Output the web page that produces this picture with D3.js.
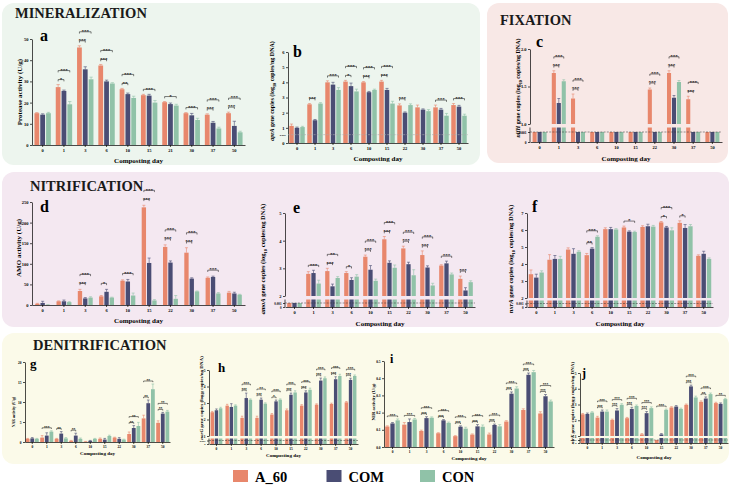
<!DOCTYPE html>
<html lang="en">
<head>
<meta charset="utf-8">
<script src="https://cdn.jsdelivr.net/npm/d3@7"></script>
<style>
*{margin:0;padding:0}
body{width:734px;height:488px;background:#fff;overflow:hidden}
svg{display:block;font-family:"Liberation Serif","Times New Roman",serif}
</style>
</head>
<body>
<svg id="fig" width="734" height="488"></svg>
<script>
// ---- categories ----
const days = ['0','1','3','6','10','15','22','30','37','50'];
const daysA = ['0','1','3','6','10','15','21','30','37','50'];
const groups = ['A_60','COM','CON'];

// ---- a: protease activity (U/g) ----
const protA   = [15,27.3,46,37.5,26.3,23.5,20.2,15,14.3,15];
const protCOM = [14.3,25.5,35.7,30,24,23.3,19.3,14,10.5,9];
const protCON = [15,19.2,31,29,22.2,20,18.6,11.8,7.8,6];
const protErrA   = [0.3,1.2,0.8,0.5,0.4,0.4,0.3,0.3,0.4,0.5];
const protErrCOM = [0.4,0.4,1.2,0.6,0.5,0.6,0.5,0.9,0.6,2.2];
const protErrCON = [0.4,1.3,1.0,0.4,0.8,1.0,0.6,0.8,0.6,0.5];
const protSig = [[1,'s','*'],[1,'l','***'],[2,'s','***'],[2,'l','***'],[3,'s','***'],[3,'l','***'],[4,'s','**'],[4,'l','***'],[5,'l','***'],[6,'l','*'],[7,'l','***'],[8,'s','***'],[8,'l','***'],[9,'s','***'],[9,'l','***']];

// ---- b: aprA ----
const aprA_A   = [1.13,2.55,4.0,4.05,4.0,4.05,2.48,2.35,2.35,2.5];
const aprA_COM = [1.0,1.5,3.85,3.75,3.35,3.5,2.0,2.2,2.2,2.4];
const aprA_CON = [1.05,2.6,3.5,3.4,3.5,2.6,2.5,2.1,1.8,1.8];
const aprErrA   = [0.12,0.05,0.1,0.08,0.05,0.08,0.1,0.15,0.15,0.1];
const aprErrCOM = [0.05,0.05,0.15,0.2,0.05,0.1,0.05,0.05,0.08,0.08];
const aprErrCON = [0.05,0.06,0.15,0.15,0.05,0.15,0.08,0.1,0.15,0.1];
const aprSig = [[1,'s','***'],[2,'l','***'],[3,'s','*'],[3,'l','***'],[4,'s','***'],[4,'l','***'],[5,'s','***'],[5,'l','***'],[6,'s','***'],[8,'l','***'],[9,'l','***']];

// ---- c: nifH (0.001 = below detection) ----
const nifA   = [0.001,1.68,1.34,0.001,0.001,0.001,1.46,1.68,1.33,0.001];
const nifCOM = [0.001,1.28,0.001,0.001,0.001,0.001,0.001,1.35,0.001,0.001];
const nifCON = [0.001,1.57,0.001,0.001,0.001,0.001,0.001,1.56,0.001,0.001];
const nifErrA   = [0,0.03,0.06,0,0,0,0.02,0.03,0.04,0];
const nifErrCOM = [0,0.06,0,0,0,0,0,0.03,0,0];
const nifErrCON = [0,0.02,0,0,0,0,0,0.02,0,0];
const nifSig = [[1,'s','***'],[1,'l','***'],[2,'s','***'],[2,'l','***'],[6,'s','***'],[6,'l','***'],[7,'s','***'],[7,'l','***'],[8,'s','***'],[8,'l','***']];

// ---- d: AMO activity (U/g) ----
const amoActA   = [3,9,34,21,59,237,141,127,66,30];
const amoActCOM = [5,9,16,32,57,102,103,64,68,28];
const amoActCON = [0.5,7,18,18,23,11,15,33,28,25];
const amoErrA   = [1,1,4,2,2,5,5,12,2,3];
const amoErrCOM = [4,3,2,6,5,12,4,2,2,3];
const amoErrCON = [0.3,1,2,1,6,2,8,1,2,1];
const amoActSig = [[2,'s','***'],[2,'l','***'],[3,'s','*'],[4,'l','***'],[5,'s','***'],[5,'l','***'],[6,'s','***'],[6,'l','***'],[7,'s','***'],[7,'l','***'],[8,'l','***']];

// ---- e: amoA ----
const amoA_A   = [0.001,2.8,2.9,2.83,3.42,4.05,3.72,3.48,3.1,2.62];
const amoA_COM = [0.001,2.83,2.35,2.58,2.95,3.2,3.15,3.03,3.18,2.2];
const amoA_CON = [0.001,2.45,2.65,2.7,2.55,3.02,2.75,2.38,2.78,2.5];
const amoAErrA   = [0,0.08,0.1,0.05,0.06,0.1,0.08,0.15,0.03,0.1];
const amoAErrCOM = [0,0.1,0.08,0.08,0.15,0.07,0.07,0.06,0.08,0.1];
const amoAErrCON = [0,0.12,0.05,0.07,0.06,0.1,0.2,0.08,0.05,0.05];
const amoASig = [[1,'l','***'],[2,'s','***'],[2,'l','**'],[3,'s','*'],[4,'s','***'],[4,'l','***'],[5,'s','***'],[5,'l','***'],[6,'s','***'],[6,'l','***'],[7,'s','***'],[7,'l','***'],[8,'l','***'],[9,'s','***']];

// ---- f: nxrA ----
const nxrA_A   = [3.4,4.25,4.85,4.52,6.05,6.15,6.18,6.45,6.42,4.48];
const nxrA_COM = [3.2,4.3,4.6,4.9,6.05,5.9,6.22,6.15,6.12,4.6];
const nxrA_CON = [3.5,4.3,4.72,5.6,6.03,5.88,6.2,5.98,6.22,4.3];
const nxrErrA   = [0.25,0.3,0.1,0.1,0.08,0.08,0.07,0.05,0.12,0.06];
const nxrErrCOM = [0.2,0.2,0.3,0.06,0.1,0.05,0.12,0.06,0.2,0.15];
const nxrErrCON = [0.1,0.15,0.06,0.06,0.05,0.05,0.07,0.15,0.1,0.06];
const nxrSig = [[3,'s','**'],[3,'l','***'],[5,'l','*'],[7,'s','*'],[7,'l','***'],[8,'s','*']];

// ---- g: NAR activity (U/g) ----
const narA   = [0.8,1.1,0.8,0.3,0.1,0.8,1.1,2.0,5.9,4.8];
const narCOM = [0.9,1.6,2.1,1.6,0.3,0.6,0.8,3.5,9.7,7.1];
const narCON = [0.8,2.6,0.9,0.8,0.8,1.5,0.6,4.0,13.2,7.6];
const narErrA   = [0.1,0.5,0.1,0.1,0.05,0.2,0.1,0.5,0.8,0.5];
const narErrCOM = [0.2,0.7,0.5,0.6,0.1,0.3,0.3,0.6,0.8,0.3];
const narErrCON = [0.1,0.2,0.2,0.2,0.1,0.2,0.1,0.9,1.3,0.3];
const narSig = [[1,'l','***'],[2,'s','**'],[3,'s','**'],[7,'s','**'],[7,'l','**'],[8,'s','**'],[8,'l','**'],[9,'s','**'],[9,'l','**']];

// ---- h: narG ----
const narG_A   = [2.44,2.84,2.1,2.1,2.3,2.56,2.84,2.9,2.94,3.04];
const narG_COM = [2.56,2.76,3.3,3.2,3.1,3.5,3.64,4.36,4.44,4.4];
const narG_CON = [2.68,2.84,3.2,2.96,3.2,3.64,3.8,4.5,4.64,4.64];
const narGErrA   = [0.05,0.08,0.1,0.1,0.06,0.08,0.06,0.05,0.05,0.05];
const narGErrCOM = [0.08,0.2,0.3,0.1,0.08,0.1,0.1,0.15,0.15,0.1];
const narGErrCON = [0.06,0.05,0.05,0.05,0.05,0.1,0.1,0.08,0.1,0.06];
const narGSig = [[2,'s','***'],[2,'l','***'],[3,'s','***'],[3,'l','**'],[4,'s','*'],[4,'l','***'],[5,'s','***'],[5,'l','***'],[6,'s','***'],[6,'l','***'],[7,'s','***'],[7,'l','***'],[8,'s','***'],[8,'l','***'],[9,'s','***'],[9,'l','***']];

// ---- i: NIR activity (U/g) ----
const nirA   = [0.119,0.13,0.093,0.08,0.063,0.072,0.073,0.148,0.215,0.195];
const nirCOM = [0.137,0.145,0.168,0.155,0.118,0.12,0.128,0.31,0.42,0.295];
const nirCON = [0.155,0.16,0.17,0.14,0.107,0.118,0.12,0.34,0.435,0.265];
const nirErrA   = [0.004,0.012,0.005,0.003,0.003,0.004,0.008,0.005,0.007,0.01];
const nirErrCOM = [0.005,0.018,0.008,0.004,0.005,0.01,0.005,0.01,0.01,0.01];
const nirErrCON = [0.008,0.006,0.005,0.005,0.008,0.01,0.01,0.01,0.01,0.008];
const nirSig = [[0,'l','***'],[1,'l','***'],[2,'s','***'],[2,'l','***'],[3,'s','***'],[3,'l','***'],[4,'s','***'],[4,'l','***'],[5,'s','***'],[5,'l','***'],[6,'s','***'],[6,'l','***'],[7,'s','***'],[7,'l','***'],[8,'s','***'],[8,'l','***'],[9,'s','***'],[9,'l','***']];

// ---- j: nirK ----
const nirK_A   = [2.38,2.17,2.02,2.13,1.1,0.001,2.81,2.98,3.17,3.09];
const nirK_COM = [2.4,2.55,2.62,2.72,2.45,1.1,2.87,4.15,3.38,3.04];
const nirK_CON = [2.49,2.55,2.98,2.91,2.77,2.66,2.72,3.45,3.66,3.34];
const nirKErrA   = [0.05,0.08,0.05,0.05,0.05,0,0.05,0.05,0.06,0.05];
const nirKErrCOM = [0.06,0.1,0.12,0.1,0.1,0.05,0.06,0.08,0.1,0.06];
const nirKErrCON = [0.05,0.1,0.07,0.06,0.08,0.05,0.05,0.08,0.07,0.05];
const nirKSig = [[1,'s','***'],[1,'l','***'],[2,'s','***'],[2,'l','***'],[3,'s','***'],[3,'l','***'],[4,'s','***'],[4,'l','***'],[5,'l','***'],[7,'s','***'],[7,'l','***'],[8,'s','**'],[8,'l','***'],[9,'l','**']];

const colors = ['#e8876c','#4a4d74','#90c2a8'];

const svg = d3.select('#fig');

// background boxes
[[2,3,478,162,'#edf5ee'],[487,3,241,160,'#f8e8e6'],[2,172,727,155,'#f4e8f1'],[2,333,727,131,'#fbfae9']]
  .forEach(b => svg.append('rect').attr('x',b[0]).attr('y',b[1]).attr('width',b[2]).attr('height',b[3])
    .attr('rx',12).attr('fill',b[4]));

const section = (t,x,y) => svg.append('text').attr('x',x).attr('y',y).attr('font-size',14.5)
  .attr('font-weight','bold').attr('fill','#1a1a1a').text(t);
section('MINERALIZATION',15,18);
section('FIXATION',500,25);
section('NITRIFICATION',30,191);
section('DENITRIFICATION',33,350);

const gene = (g) => [{t:g,i:1},{t:' gene copies (log'},{t:'10',sub:1},{t:' copies/ng DNA)'}];

function drawPanel(p) {
  const g = svg.append('g');
  const n = p.labels.length;
  const x = d3.scaleBand().domain(d3.range(n)).range([p.x0,p.x1]).paddingInner(p.pad).paddingOuter(p.pad/2);
  const xs = d3.scaleBand().domain([0,1,2]).range([0,x.bandwidth()]).paddingInner(0.18);
  const yU = d3.scaleLinear().domain(p.dom).range([p.broken ? p.yUB : p.y0, p.yT]);
  const yL = d3.scaleLinear().domain([0,0.001]).range([p.y0,p.yLod]);
  const base = p.dom[0];
  const up = v => !p.broken || v > base;
  const cx = (s,i) => x(i)+xs(s)+xs.bandwidth()/2;
  const topY = (s,i) => {
    const v = p.vals[s][i], e = p.errs[s][i] || 0;
    return up(v) ? yU(v+e) : p.yLod;
  };

  p.vals.forEach((vals,s) => {
    const rows = vals.map((v,i) => ({v,i,e:p.errs[s][i]}));
    const bg = g.append('g').attr('fill',colors[s]);
    bg.selectAll('rect.u').data(rows.filter(d => up(d.v))).join('rect').attr('class','u')
      .attr('x',d => x(d.i)+xs(s)).attr('width',xs.bandwidth())
      .attr('y',d => yU(d.v)).attr('height',d => yU(base)-yU(d.v));
    if (p.broken) {
      bg.selectAll('rect.l').data(rows).join('rect').attr('class','l')
        .attr('x',d => x(d.i)+xs(s)).attr('width',xs.bandwidth())
        .attr('y',d => up(d.v) ? p.yLT : p.yLod).attr('height',d => p.y0-(up(d.v) ? p.yLT : p.yLod));
    }
    const eb = g.append('g').attr('stroke',colors[s]).attr('stroke-width',0.6);
    rows.filter(d => up(d.v) && d.e > 0).forEach(d => {
      const c = cx(s,d.i), w = xs.bandwidth()*0.35;
      eb.append('path').attr('d',`M${c},${yU(d.v)}V${yU(d.v+d.e)}M${c-w},${yU(d.v+d.e)}H${c+w}`);
    });
  });

  const styleAxis = (a,fs) => {
    a.attr('font-size',fs).attr('font-family',null).attr('font-weight','bold');
    a.selectAll('line,path').attr('stroke-width',0.7);
  };

  const ya = g.append('g').attr('transform',`translate(${p.x0},0)`)
    .call(d3.axisLeft(yU).tickValues(p.ticks).tickFormat(p.fmt).tickSize(2).tickSizeOuter(0).tickPadding(1.5));
  styleAxis(ya,p.tfs);

  if (p.broken) {
    const la = g.append('g').attr('transform',`translate(${p.x0},0)`)
      .call(d3.axisLeft(yL).tickValues([0,0.001]).tickFormat(d => d ? '0.001' : '0').tickSize(2).tickPadding(1.5));
    la.select('.domain').remove();
    styleAxis(la,p.lfs2);
    g.append('line').attr('x1',p.x0).attr('x2',p.x0).attr('y1',p.yLT).attr('y2',p.y0)
      .attr('stroke','#000').attr('stroke-width',0.7);
    g.append('line').attr('x1',p.x0).attr('x2',p.x1).attr('y1',p.yLod).attr('y2',p.yLod)
      .attr('stroke','#333').attr('stroke-width',0.5).attr('stroke-dasharray','2,1.2');
  }
  if (p.ref !== undefined) {
    g.append('line').attr('x1',p.x0).attr('x2',p.x1).attr('y1',yU(p.ref)).attr('y2',yU(p.ref))
      .attr('stroke','#aaa').attr('stroke-width',0.6).attr('stroke-dasharray','2,1.2');
    g.append('text').attr('x',p.x0-2).attr('y',yU(p.ref)+1).attr('text-anchor','end')
      .attr('font-size',2.8).attr('font-weight','bold').text('0.001');
  }

  const xa = g.append('g').attr('transform',`translate(0,${p.y0})`)
    .call(d3.axisBottom(x).tickFormat(i => p.labels[i]).tickSize(2).tickSizeOuter(0).tickPadding(p.xpad));
  styleAxis(xa,p.tfs);

  g.append('text').attr('x',(p.x0+p.x1)/2).attr('y',p.xt).attr('text-anchor','middle')
    .attr('font-size',p.xfs).attr('font-weight','bold').text('Composting day');

  const yt = g.append('text').attr('transform',`translate(${p.ylx},${p.yly}) rotate(-90)`)
    .attr('text-anchor','middle').attr('font-size',p.yfs).attr('font-weight','bold');
  let shift = 0;
  p.ytitle.forEach(part => {
    const t = yt.append('tspan').text(part.t);
    if (part.i) t.attr('font-style','italic');
    if (part.sub) { t.attr('dy',p.yfs*0.25).attr('font-size',p.yfs*0.7); shift = p.yfs*0.25; }
    else if (shift) { t.attr('dy',-shift); shift = 0; }
  });

  g.append('text').attr('x',p.lx).attr('y',p.ly).attr('font-size',p.lfs).attr('font-weight','bold').text(p.letter);

  // significance brackets
  const hasShort = new Set(p.sig.filter(d => d[1]==='s').map(d => d[0]));
  p.sig.forEach(([i,k,lab]) => {
    const xa1 = cx(0,i), xa2 = cx(k==='s' ? 1 : 2, i);
    const ys = Math.min(topY(0,i),topY(1,i)) - p.so;
    let y = ys;
    if (k==='l') {
      const yl = Math.min(topY(0,i),topY(1,i),topY(2,i)) - p.so;
      y = hasShort.has(i) ? Math.min(ys-p.lo,yl) : yl;
    }
    g.append('path').attr('d',`M${xa1},${y+p.leg}V${y}H${xa2}V${y+p.leg}`)
      .attr('fill','none').attr('stroke','#000').attr('stroke-width',0.5);
    g.append('text').attr('x',(xa1+xa2)/2).attr('y',y+p.sfs*0.25).attr('text-anchor','middle')
      .attr('font-size',p.sfs).attr('font-weight','bold').text(lab);
  });
}

const big = {tfs:4.5,xpad:2,sfs:5,so:5,lo:9,leg:1.8,xfs:7,lfs:16,lfs2:3.2};
const small = {tfs:3.5,xpad:1.5,sfs:3.6,so:3,lo:6,leg:1.2,xfs:5,lfs:13,lfs2:2.6};

drawPanel({...big, labels:daysA, vals:[protA,protCOM,protCON], errs:[protErrA,protErrCOM,protErrCON], sig:protSig,
  x0:32,x1:245,yT:39,y0:145,dom:[0,50],ticks:d3.range(0,51,10),fmt:d3.format('d'),pad:0.23,
  ytitle:[{t:'Protease activity (U/g)'}],ylx:22,yly:92,yfs:7,xt:163,letter:'a',lx:40,ly:41});

drawPanel({...big, labels:days, vals:[aprA_A,aprA_COM,aprA_CON], errs:[aprErrA,aprErrCOM,aprErrCON], sig:aprSig,
  x0:288,x1:468,yT:52,y0:143,dom:[0,6],ticks:d3.range(0,7),fmt:d3.format('d'),pad:0.14,ref:0.55,
  ytitle:gene('aprA'),ylx:274,yly:91,yfs:6,xt:161,letter:'b',lx:293,ly:57});

drawPanel({...big, labels:days, vals:[nifA,nifCOM,nifCON], errs:[nifErrA,nifErrCOM,nifErrCON], sig:nifSig,
  x0:530,x1:722,broken:true,dom:[1,2],yT:49,yUB:124,yLT:127.5,yLod:132,y0:142,ticks:[1,1.5,2],fmt:d3.format('.1f'),pad:0.27,lfs2:3.5,
  ytitle:gene('nifH'),ylx:520,yly:88,yfs:6,xt:161,letter:'c',lx:536,ly:47});

drawPanel({...big, labels:days, vals:[amoActA,amoActCOM,amoActCON], errs:[amoErrA,amoErrCOM,amoErrCON], sig:amoActSig,
  x0:32,x1:245,yT:202,y0:305,dom:[0,250],ticks:d3.range(0,251,50),fmt:d3.format('d'),pad:0.3,so:6,
  ytitle:[{t:'AMO activity (U/g)'}],ylx:21,yly:248,yfs:7,xt:323,letter:'d',lx:40,ly:212});

drawPanel({...big, labels:days, vals:[amoA_A,amoA_COM,amoA_CON], errs:[amoAErrA,amoAErrCOM,amoAErrCON], sig:amoASig,
  x0:285,x1:475,broken:true,dom:[2,5],yT:213,yUB:296,yLT:299.5,yLod:303,y0:307,ticks:[2,3,4,5],fmt:d3.format('d'),pad:0.23,
  ytitle:gene('amoA'),ylx:265,yly:259,yfs:6.5,xt:326,letter:'e',lx:293,ly:213});

drawPanel({...big, labels:days, vals:[nxrA_A,nxrA_COM,nxrA_CON], errs:[nxrErrA,nxrErrCOM,nxrErrCON], sig:nxrSig,
  x0:527,x1:713,broken:true,dom:[2,7],yT:213,yUB:298,yLT:300.5,yLod:303.5,y0:307,ticks:d3.range(2,8),fmt:d3.format('d'),pad:0.19,
  ytitle:gene('nxrA'),ylx:513,yly:259,yfs:6.5,xt:326,letter:'f',lx:532,ly:212});

drawPanel({...small, labels:days, vals:[narA,narCOM,narCON], errs:[narErrA,narErrCOM,narErrCON], sig:narSig,
  x0:25,x1:170,yT:362,y0:442,dom:[0,20],ticks:d3.range(0,21,5),fmt:d3.format('d'),pad:0.1,
  ytitle:[{t:'NAR activity (U/g)'}],ylx:15,yly:412,yfs:3.8,xt:455,letter:'g',lx:30,ly:368});

drawPanel({...small, labels:days, vals:[narG_A,narG_COM,narG_CON], errs:[narGErrA,narGErrCOM,narGErrCON], sig:narGSig,
  x0:209,x1:358,broken:true,dom:[1,5],yT:370,yUB:436,yLT:438.5,yLod:440.5,y0:444,ticks:d3.range(1,6),fmt:d3.format('d'),pad:0.21,
  ytitle:gene('narG'),ylx:203,yly:398,yfs:5,xt:457,letter:'h',lx:218,ly:372});

drawPanel({...small, labels:days, vals:[nirA,nirCOM,nirCON], errs:[nirErrA,nirErrCOM,nirErrCON], sig:nirSig,
  x0:384,x1:554,yT:361,y0:447,dom:[0,0.5],ticks:[0,0.1,0.2,0.3,0.4,0.5],fmt:d3.format('.1f'),pad:0.14,
  ytitle:[{t:'NIR activity (U/g)'}],ylx:375,yly:402,yfs:4.8,xt:460,letter:'i',lx:390,ly:363,lfs:12});

drawPanel({...small, labels:days, vals:[nirK_A,nirK_COM,nirK_CON], errs:[nirKErrA,nirKErrCOM,nirKErrCON], sig:nirKSig,
  x0:580,x1:728,broken:true,dom:[1,5],yT:373,yUB:436,yLT:438,yLod:440,y0:443,ticks:d3.range(1,6),fmt:d3.format('d'),pad:0.1,
  ytitle:gene('nirK'),ylx:574,yly:403,yfs:5,xt:459,letter:'j',lx:582,ly:377,lfs:12});

// legend
const leg = svg.append('g').attr('transform','translate(233,470)');
const legX = d3.scalePoint().domain(groups).range([0,187]);
groups.forEach((k,s) => {
  leg.append('rect').attr('x',legX(k)).attr('y',0).attr('width',15).attr('height',12).attr('fill',colors[s]);
  leg.append('text').attr('x',legX(k)+22).attr('y',11.5).attr('font-size',14.5).attr('font-weight','bold').text(k);
});
</script>
</body>
</html>
